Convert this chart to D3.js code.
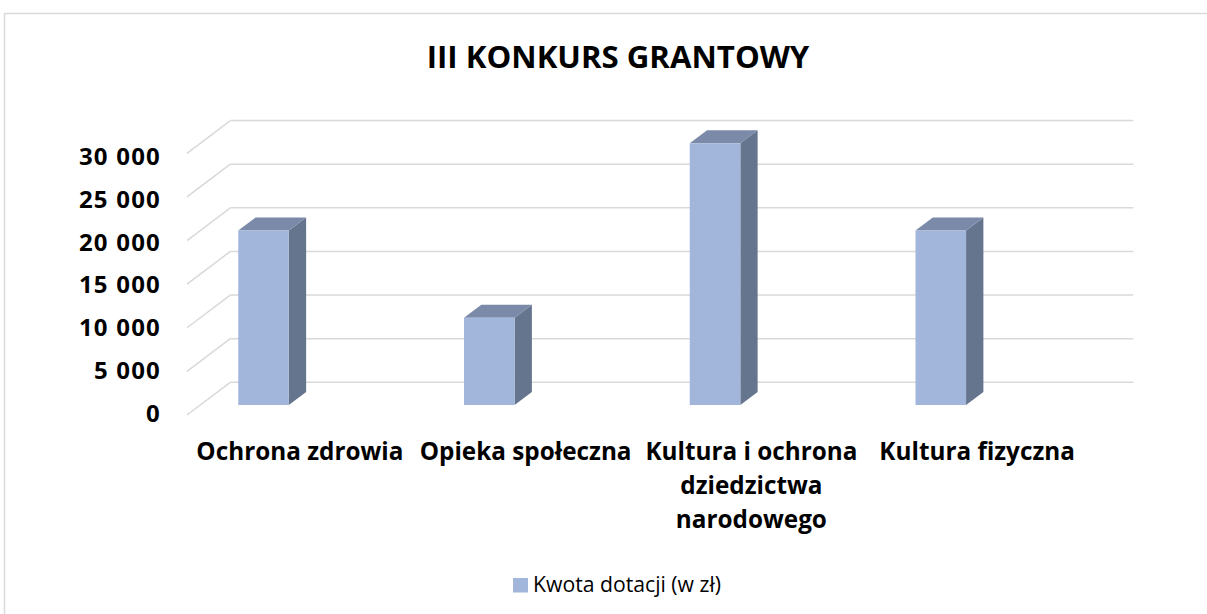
<!DOCTYPE html>
<html>
<head>
<meta charset="utf-8">
<script src="https://cdn.jsdelivr.net/npm/d3@7"></script>
<style>
  body { margin: 0; background: #fff; }
  text { font-family: "Open Sans", sans-serif; }
</style>
</head>
<body>
<svg id="chart" width="1207" height="614"></svg>
<script>
// data
var categories = ["Ochrona zdrowia", "Opieka społeczna", "Kultura i ochrona dziedzictwa narodowego", "Kultura fizyczna"];
var categoryLines = [["Ochrona zdrowia"], ["Opieka społeczna"], ["Kultura i ochrona", "dziedzictwa", "narodowego"], ["Kultura fizyczna"]];
var values = [20000, 10000, 30000, 20000];
var yTicks = [0, 5000, 10000, 15000, 20000, 25000, 30000];
var seriesName = "Kwota dotacji (w zł)";
var title = "III KONKURS GRANTOWY";

var svg = d3.select("#chart");

// outer frame
svg.append("rect")
  .attr("x", 4.5).attr("y", 13.5)
  .attr("width", 1230).attr("height", 640)
  .attr("fill", "#fff")
  .attr("stroke", "#d9d9d9")
  .attr("stroke-width", 1.5);

// 3d geometry
var depthX = 43.3, depthY = -32.7;   // full depth of the walls
var barD0 = 0.306, barD1 = 0.706;    // bar depth range (fraction)

var x = d3.scaleBand().domain(categories).range([187, 1090]);
var y = d3.scaleLinear().domain([0, 30000]).range([415, 153.3]);
var yLab = d3.scaleLinear().domain([0, 30000]).range([413.5, 156.5]);

var grid = svg.append("g").attr("class", "grid");
// back wall lines
grid.selectAll(".back").data(yTicks).enter().append("line")
  .attr("x1", 187 + depthX).attr("x2", 1090 + depthX)
  .attr("y1", d => y(d) + depthY).attr("y2", d => y(d) + depthY)
  .attr("stroke", "#d9d9d9").attr("stroke-width", 1.5);
// side wall diagonals
grid.selectAll(".side").data(yTicks).enter().append("line")
  .attr("x1", 187).attr("x2", 187 + depthX)
  .attr("y1", d => y(d)).attr("y2", d => y(d) + depthY)
  .attr("stroke", "#d9d9d9").attr("stroke-width", 1.5);

// y labels
svg.append("g").selectAll("text").data(yTicks).enter().append("text")
  .attr("x", 161)
  .attr("y", d => yLab(d))
  .attr("dy", "0.35em")
  .attr("text-anchor", "end")
  .style("font-size", "24px")
  .style("letter-spacing", "1.2px")
  .style("font-weight", 700)
  .text(d => d3.format(",")(d).replace(/,/g, " "));

// bars
var bw = x.bandwidth() * 0.224;
var bars = svg.append("g").selectAll("g").data(values).enter().append("g");

function fx(i) { return x(categories[i]) + x.bandwidth() * 0.227 - 13.25 + depthX * barD0; }
function fy(v) { return y(v) + depthY * barD0; }
var bdx = depthX * (barD1 - barD0), bdy = depthY * (barD1 - barD0);

// side face
bars.append("path")
  .attr("d", (d, i) => {
    var x0 = fx(i) + bw, yt = fy(d), yb = fy(0);
    return `M${x0},${yt}L${x0 + bdx},${yt + bdy}L${x0 + bdx},${yb + bdy}L${x0},${yb}Z`;
  })
  .attr("fill", "#66758e");
// top face
bars.append("path")
  .attr("d", (d, i) => {
    var x0 = fx(i), yt = fy(d);
    return `M${x0},${yt}L${x0 + bdx},${yt + bdy}L${x0 + bw + bdx},${yt + bdy}L${x0 + bw},${yt}Z`;
  })
  .attr("fill", "#7a8aa8");
// front face
bars.append("rect")
  .attr("x", (d, i) => fx(i))
  .attr("y", d => fy(d))
  .attr("width", bw)
  .attr("height", d => fy(0) - fy(d))
  .attr("fill", "#a2b5da");

// category labels
var cl = svg.append("g").selectAll("text").data(categoryLines).enter().append("text")
  .attr("text-anchor", "middle")
  .attr("transform", (d, i) => `translate(${x(categories[i]) + x.bandwidth() / 2},460)`)
  .style("font-size", "24.3px")
  .style("font-weight", 700);
cl.selectAll("tspan").data(d => d).enter().append("tspan")
  .attr("x", 0)
  .attr("y", (d, i) => i * 34)
  .text(d => d);

// title
svg.append("text")
  .attr("x", 618).attr("y", 68)
  .attr("text-anchor", "middle")
  .style("font-size", "31.2px")
  .style("font-weight", 700)
  .text(title);

// legend
var leg = svg.append("g");
leg.append("rect")
  .attr("x", 513).attr("y", 578)
  .attr("width", 15).attr("height", 14.5)
  .attr("fill", "#a2b5da");
leg.append("text")
  .attr("x", 533).attr("y", 592)
  .style("font-size", "21.2px")
  .attr("fill", "#000")
  .text(seriesName);
</script>
</body>
</html>
